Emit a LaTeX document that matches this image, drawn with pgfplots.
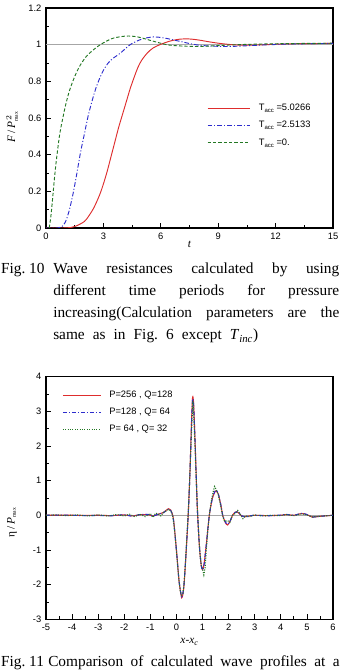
\documentclass[border=0pt]{standalone}
\usepackage{fontspec}
\setmainfont{Liberation Serif}
\setsansfont{Liberation Sans}
\usepackage{pgfplots}
\pgfplotsset{compat=1.18}
\frenchspacing
\definecolor{cred}{RGB}{222,45,45}
\definecolor{cblue}{RGB}{45,45,205}
\definecolor{cgreen}{RGB}{35,120,35}
\newcommand{\tickfont}{\sffamily\fontsize{7}{8}\selectfont}
\newcommand{\capfont}{\fontsize{11.5}{13}\selectfont}
\pgfplotsset{
  mystyle/.style={
    scale only axis, width=215.25pt,
    tick pos=left, tick align=inside,
    major tick length=3.75pt, minor tick length=2.25pt,
    axis line style={line width=0.8pt},
    every tick/.style={black, line width=0.6pt},
    ticklabel style={font=\tickfont},
    /pgf/number format/assume math mode=true,
    minor x tick num=1, minor y tick num=1,
    legend cell align=left,
    label style={font=\fontsize{8.5}{10}\selectfont},
  }
}
\begin{document}
\begin{tikzpicture}
\path[use as bounding box, clip] (0,0) rectangle (255.75pt,503.25pt);
% ---------------- Fig 10 ----------------
\begin{axis}[mystyle,
  at={(34.5pt,332.25pt)}, anchor=south west, height=165pt,
  xmin=0, xmax=15, ymin=0, ymax=1.2,
  xtick={0,3,6,9,12,15}, ytick={0,0.2,0.4,0.6,0.8,1,1.2},
  xlabel={\textit{t}},
  xlabel style={at={(axis description cs:0.5,-0.073)}, anchor=center},
  ylabel={\textit{F}\,/\,\textit{P}$^{\,2}_{\scriptscriptstyle\mathrm{max}}$},
  ylabel style={at={(axis description cs:-0.118,0.459)}, anchor=center},
  legend style={draw=none, fill=none, at={(0.561,0.565)}, anchor=north west,
    inner sep=0pt, row sep=6.5pt, column sep=6pt,
    nodes={inner sep=0pt, text height=5pt, text depth=1.5pt, font=\tickfont}},
  legend image code/.code={\draw[#1] (0pt,0pt) -- (32pt,0pt);},
]
\addplot[gray!70, line width=0.6pt, forget plot] coordinates {(0,1) (15,1)};
\addplot[cred, line width=0.7pt, smooth, tension=0.5] coordinates {
(0,0) (0.9,0) (1.3,0.003) (1.6,0.012) (2.0,0.035) (2.2,0.06) (2.5,0.11) (2.8,0.18)
(3.0,0.24) (3.2,0.31) (3.4,0.39) (3.6,0.47) (3.8,0.55) (4.0,0.62) (4.2,0.69)
(4.4,0.76) (4.6,0.82) (4.8,0.875) (5.0,0.915) (5.3,0.955) (5.6,0.982) (6.0,1.002)
(6.5,1.02) (7.0,1.03) (7.5,1.031) (8.0,1.025) (8.5,1.016) (9.0,1.008) (9.5,1.002)
(10,0.998) (10.5,0.997) (11,0.998) (12,1.002) (13,1.005) (14,1.006) (15,1.007)};
\addplot[cblue, line width=0.7pt, smooth, tension=0.5,
  dash pattern=on 3.5pt off 1.5pt on 0.8pt off 1.5pt] coordinates {
(0,0) (0.6,0) (0.8,0.005) (1.0,0.03) (1.2,0.09) (1.4,0.18) (1.6,0.29) (1.8,0.41)
(2.0,0.51) (2.2,0.61) (2.4,0.69) (2.6,0.76) (2.8,0.815) (3.0,0.86) (3.25,0.9)
(3.5,0.925) (3.9,0.955) (4.4,1.0) (5.0,1.03) (5.6,1.042) (6.2,1.036) (7.0,1.018)
(7.8,1.0) (8.5,0.993) (9.5,0.99) (10.5,0.994) (11.5,0.999) (13,1.004) (15,1.007)};
\addplot[cgreen, line width=0.7pt, smooth, tension=0.5,
  dash pattern=on 2.5pt off 1.5pt] coordinates {
(0.17,0) (0.25,0.06) (0.3,0.11) (0.38,0.2) (0.45,0.28) (0.52,0.35) (0.6,0.42)
(0.7,0.5) (0.8,0.56) (0.9,0.61) (1.0,0.66) (1.2,0.74) (1.4,0.8) (1.6,0.85)
(1.8,0.89) (2.1,0.935) (2.4,0.965) (2.7,0.99) (3.0,1.01) (3.5,1.035) (4.2,1.047)
(4.8,1.042) (5.5,1.022) (6.3,1.0) (7.0,0.993) (8,0.99) (9,0.995) (10,1.0)
(12,1.005) (15,1.008)};
\legend{{T\raisebox{-1.5pt}{\fontsize{4.5}{5}\selectfont acc} =5.0266},
        {T\raisebox{-1.5pt}{\fontsize{4.5}{5}\selectfont acc} =2.5133},
        {T\raisebox{-1.5pt}{\fontsize{4.5}{5}\selectfont acc} =0.}}
\end{axis}
% caption Fig 10
\node[anchor=base west, inner sep=0pt, font=\capfont] at (0.6pt,297.75pt) {Fig.~10};
\node[anchor=base west, inner sep=0pt, font=\capfont] at (39.75pt,297.75pt)
  {\makebox[214.5pt][s]{Wave resistances calculated by using}};
\node[anchor=base west, inner sep=0pt, font=\capfont] at (39.75pt,281.25pt)
  {\makebox[214.5pt][s]{different time periods for pressure}};
\node[anchor=base west, inner sep=0pt, font=\capfont] at (39.75pt,264.75pt)
  {\makebox[214.5pt][s]{increasing(Calculation parameters are the}};
\node[anchor=base west, inner sep=0pt, font=\capfont] at (39.75pt,248.25pt)
  {\makebox[153.75pt][s]{same as in Fig. 6 except \textit{T}\textsubscript{\textit{inc}})}};
% ---------------- Fig 11 ----------------
\begin{axis}[mystyle,
  at={(34.5pt,38.8pt)}, anchor=south west, height=182pt,
  xmin=-5, xmax=6, ymin=-3, ymax=4,
  xtick={-5,-4,...,6}, ytick={-3,-2,...,4},
  xlabel={\textit{x-x}\textsubscript{\textit{c}}},
  xlabel style={at={(axis description cs:0.5,-0.094)}, anchor=center},
  ylabel={η\,/\,\textit{P}$_{\scriptscriptstyle\mathrm{max}}$},
  ylabel style={at={(axis description cs:-0.118,0.40)}, anchor=center},
  legend style={draw=none, fill=none, at={(0.0557,0.942)}, anchor=north west,
    inner sep=0pt, row sep=6.3pt, column sep=6pt,
    nodes={inner sep=0pt, text height=5pt, text depth=1.5pt, font=\tickfont}},
  legend image code/.code={\draw[#1] (0pt,0pt) -- (28.5pt,0pt);},
]
\addplot[gray!70, line width=0.6pt, forget plot] coordinates {(-5,0) (6,0)};
\addplot[cred, line width=0.8pt, smooth, tension=0.4] coordinates {
(-5,0) (-4.5,0) (-4,0) (-3.5,-0.005) (-3,0) (-2.5,-0.01) (-2,0.01) (-1.7,-0.02)
(-1.4,0.015) (-1.1,0.02) (-0.9,-0.02) (-0.7,0.03) (-0.5,0.08) (-0.4,0.14)
(-0.3,0.19) (-0.22,0.15) (-0.15,0.02) (-0.1,-0.2) (0,-1.0) (0.1,-1.9) (0.2,-2.38)
(0.28,-2.1) (0.36,-1.2) (0.45,0) (0.52,1.3) (0.58,2.75) (0.62,3.41) (0.66,3.2)
(0.72,2.0) (0.8,0.2) (0.88,-0.9) (0.95,-1.45) (1.0,-1.56) (1.06,-1.4) (1.15,-0.8)
(1.26,0) (1.38,0.5) (1.5,0.7) (1.6,0.62) (1.7,0.3) (1.78,-0.02) (1.88,-0.22)
(1.96,-0.28) (2.05,-0.18) (2.15,0) (2.25,0.09) (2.32,0.1) (2.42,0.04) (2.52,-0.03)
(2.65,-0.04) (2.8,-0.02) (3.0,0) (3.5,-0.01) (4.0,0) (4.2,0.02) (4.5,0)
(4.8,0.05) (5.0,0.02) (5.2,-0.05) (5.5,-0.03) (6,0)};
\addplot[cblue, line width=0.8pt, smooth, tension=0.4,
  dash pattern=on 3pt off 1.5pt on 0.8pt off 1.5pt] coordinates {
(-5,0) (-4.5,0.005) (-4,0) (-3.5,-0.01) (-3,-0.005) (-2.5,-0.015) (-2,0.015)
(-1.7,-0.025) (-1.4,0.02) (-1.1,0.025) (-0.9,-0.025) (-0.7,0.035) (-0.5,0.07)
(-0.4,0.13) (-0.3,0.18) (-0.22,0.14) (-0.15,0.01) (-0.1,-0.22) (0,-1.02)
(0.1,-1.9) (0.2,-2.35) (0.28,-2.08) (0.36,-1.18) (0.45,0) (0.52,1.28) (0.58,2.7)
(0.62,3.35) (0.66,3.15) (0.72,1.98) (0.8,0.2) (0.88,-0.9) (0.95,-1.45) (1.0,-1.58)
(1.06,-1.42) (1.15,-0.8) (1.26,0) (1.38,0.5) (1.5,0.72) (1.6,0.63) (1.7,0.3)
(1.78,-0.02) (1.88,-0.2) (1.96,-0.26) (2.05,-0.17) (2.15,0) (2.25,0.08) (2.32,0.1)
(2.42,0.05) (2.52,-0.02) (2.65,-0.05) (2.8,-0.02) (3.0,0) (3.5,-0.015) (4.0,0.005)
(4.2,0.025) (4.5,0) (4.8,0.055) (5.0,0.02) (5.2,-0.05) (5.5,-0.03) (6,0)};
\addplot[cgreen, line width=0.8pt, densely dotted] coordinates {
(-5,0) (-4.6,0.01) (-4.2,-0.01) (-3.8,0.01) (-3.4,-0.02) (-3,0.01) (-2.6,-0.02)
(-2.3,0.02) (-2,-0.02) (-1.8,0.03) (-1.6,-0.04) (-1.4,0.03) (-1.2,-0.04)
(-1.0,0.05) (-0.9,-0.06) (-0.8,0.06) (-0.7,0.04) (-0.6,-0.02) (-0.5,0.08)
(-0.4,0.12) (-0.3,0.17) (-0.22,0.13) (-0.15,0) (-0.1,-0.25) (-0.05,-0.6)
(0,-1.05) (0.05,-1.5) (0.1,-1.9) (0.15,-2.2) (0.2,-2.3) (0.25,-2.25) (0.3,-1.9)
(0.35,-1.3) (0.4,-0.6) (0.45,0.05) (0.5,0.9) (0.55,1.9) (0.6,2.8) (0.63,3.3)
(0.66,2.9) (0.7,2.2) (0.75,1.2) (0.8,0.25) (0.85,-0.5) (0.9,-1.1) (0.95,-1.45)
(1.0,-1.55) (1.05,-1.72) (1.1,-1.5) (1.15,-0.95) (1.2,-0.45) (1.26,0)
(1.32,0.35) (1.4,0.65) (1.46,0.83) (1.52,0.75) (1.6,0.6) (1.7,0.25) (1.78,-0.05)
(1.85,-0.18) (1.95,-0.15) (2.05,-0.2) (2.15,0) (2.25,0.05) (2.35,0.14) (2.45,0.02)
(2.55,-0.1) (2.65,-0.02) (2.8,-0.04) (3.0,0.01) (3.3,-0.02) (3.6,0) (4.0,-0.01)
(4.2,0.02) (4.5,-0.01) (4.8,0.04) (5.0,0.01) (5.2,-0.05) (5.5,-0.03) (6,0)};
\legend{{P=256 , Q=128}, {P=128 , Q=\ 64}, {P=\ 64 , Q=\ 32}}
\end{axis}
% caption Fig 11
\node[anchor=base west, inner sep=0pt, font=\capfont] at (0.6pt,3pt) {Fig.~11};
\node[anchor=base west, inner sep=0pt, font=\capfont] at (36pt,3pt)
  {\makebox[218.5pt][s]{Comparison of calculated wave profiles at a}};
\end{tikzpicture}
\end{document}
